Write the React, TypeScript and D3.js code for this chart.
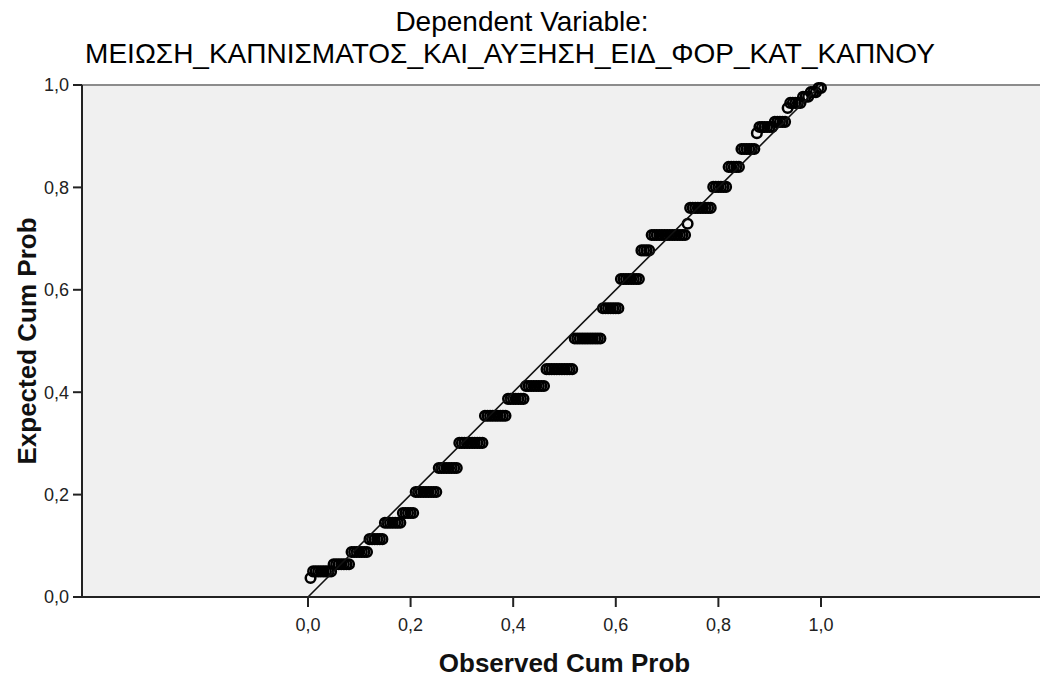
import React from "react";
import * as d3 from "d3";

const titleLines = ["Dependent Variable:", "ΜΕΙΩΣΗ_ΚΑΠΝΙΣΜΑΤΟΣ_ΚΑΙ_ΑΥΞΗΣΗ_ΕΙΔ_ΦΟΡ_ΚΑΤ_ΚΑΠΝΟΥ"];
const xAxisTitle = "Observed Cum Prob";
const yAxisTitle = "Expected Cum Prob";

const tickValues = [0, 0.2, 0.4, 0.6, 0.8, 1.0];
const tickLabels = ["0,0", "0,2", "0,4", "0,6", "0,8", "1,0"];

// Expected cumulative probability of each tied group of residuals (ascending)
const expectedLevels = [
  0.037, 0.05, 0.064, 0.088, 0.113, 0.145, 0.164, 0.205, 0.252, 0.301, 0.354,
  0.387, 0.412, 0.445, 0.505, 0.564, 0.621, 0.677, 0.707, 0.729, 0.76, 0.801,
  0.84, 0.875, 0.906, 0.918, 0.928, 0.955, 0.965, 0.977, 0.986, 0.994,
];
// Number of cases in each tied group
const tieCounts = [
  1, 8, 7, 7, 6, 7, 5, 9, 8, 10, 9, 7, 8, 11, 11, 7, 8, 4, 14, 1, 9, 6, 5, 6, 1,
  6, 5, 1, 5, 3, 3, 2,
];

const W = 1040;
const H = 677;
const FONT = "'Liberation Sans', Arial, sans-serif";

export default function App() {
  const plotLeft = 82;
  const plotRight = 1040;
  const plotTop = 85;
  const plotBottom = 597;

  const x = d3.scaleLinear().domain([-0.4405, 1.4269]).range([plotLeft, plotRight]);
  const y = d3.scaleLinear().domain([0, 1]).range([plotBottom, plotTop]);

  const n = d3.sum(tieCounts);
  const points: { obs: number; exp: number }[] = [];
  let rank = 0;
  expectedLevels.forEach((lvl, gi) => {
    for (let k = 0; k < tieCounts[gi]; k++) {
      rank += 1;
      points.push({ obs: rank / n, exp: lvl });
    }
  });

  const line = d3
    .line<[number, number]>()
    .x((d) => x(d[0]))
    .y((d) => y(d[1]));

  return (
    <svg
      width={W}
      height={H}
      style={{ position: "absolute", left: 0, top: 0, background: "#fff" }}
      fontFamily={FONT}
    >
      <rect x={0} y={0} width={W} height={H} fill="#fff" />
      {/* plot background */}
      <rect
        x={plotLeft}
        y={plotTop}
        width={plotRight - plotLeft}
        height={plotBottom - plotTop}
        fill="#F0F0F0"
      />
      {/* top frame */}
      <line x1={plotLeft} x2={plotRight} y1={plotTop} y2={plotTop} stroke="#8c8c8c" strokeWidth={2} />

      {/* points */}
      <g fill="none" stroke="#000" strokeWidth={2.5}>
        {points.map((p, i) => (
          <circle key={i} cx={x(p.obs)} cy={y(p.exp)} r={4.8} />
        ))}
      </g>

      {/* reference diagonal */}
      <path
        d={line([
          [0, 0],
          [1, 1],
        ]) || ""}
        stroke="#111"
        strokeWidth={1.6}
        fill="none"
      />

      {/* axes */}
      <line x1={plotLeft} x2={plotLeft} y1={plotTop} y2={plotBottom} stroke="#222" strokeWidth={2} />
      <line x1={plotLeft} x2={plotRight} y1={plotBottom} y2={plotBottom} stroke="#222" strokeWidth={2} />

      {tickValues.map((v, i) => (
        <g key={"yt" + i}>
          <line x1={plotLeft - 9} x2={plotLeft} y1={y(v)} y2={y(v)} stroke="#222" strokeWidth={2} />
          <text x={plotLeft - 13} y={y(v)} dy="0.36em" textAnchor="end" fontSize={18} fill="#222">
            {tickLabels[i]}
          </text>
        </g>
      ))}
      {tickValues.map((v, i) => (
        <g key={"xt" + i}>
          <line x1={x(v)} x2={x(v)} y1={plotBottom} y2={plotBottom + 10} stroke="#222" strokeWidth={2} />
          <text x={x(v)} y={631} textAnchor="middle" fontSize={18} fill="#222">
            {tickLabels[i]}
          </text>
        </g>
      ))}

      {/* axis titles */}
      <text x={x(0.5)} y={672} textAnchor="middle" fontSize={26} fontWeight="bold" fill="#111">
        {xAxisTitle}
      </text>
      <text
        transform={`translate(36, ${(plotTop + plotBottom) / 2}) rotate(-90)`}
        textAnchor="middle"
        fontSize={26}
        fontWeight="bold"
        fill="#111"
      >
        {yAxisTitle}
      </text>

      {/* title */}
      <text x={522} y={31} textAnchor="middle" fontSize={28} fill="#000">
        {titleLines[0]}
      </text>
      <text x={510} y={62.5} textAnchor="middle" fontSize={28} fill="#000">
        {titleLines[1]}
      </text>
    </svg>
  );
}
